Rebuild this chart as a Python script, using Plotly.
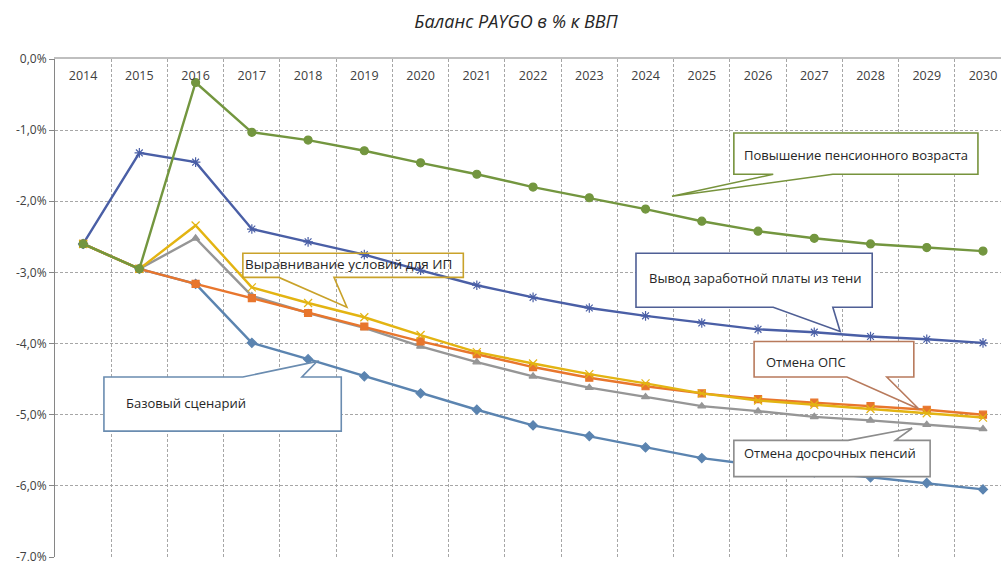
import plotly.graph_objects as go

years = list(range(2014, 2031))

# Values, % of GDP
pension_age = [-2.60, -2.95, -0.33, -1.03, -1.14, -1.29, -1.46, -1.62, -1.80, -1.95, -2.11, -2.28, -2.42, -2.52, -2.60, -2.65, -2.70]
shadow_wage = [-2.60, -1.32, -1.45, -2.39, -2.57, -2.75, -2.97, -3.18, -3.35, -3.50, -3.61, -3.71, -3.80, -3.84, -3.90, -3.94, -3.99]
base_case = [-2.60, -2.95, -3.16, -3.99, -4.22, -4.46, -4.70, -4.93, -5.15, -5.30, -5.46, -5.61, -5.71, -5.81, -5.88, -5.96, -6.05]
ops_cancel = [-2.60, -2.95, -3.16, -3.36, -3.57, -3.76, -3.97, -4.15, -4.33, -4.48, -4.60, -4.70, -4.78, -4.83, -4.88, -4.93, -5.00]
ip_equal = [-2.60, -2.95, -2.34, -3.21, -3.43, -3.63, -3.88, -4.12, -4.28, -4.43, -4.56, -4.70, -4.80, -4.86, -4.92, -4.98, -5.04]
early_cancel = [-2.60, -2.95, -2.52, -3.33, -3.57, -3.78, -4.04, -4.26, -4.46, -4.62, -4.75, -4.88, -4.95, -5.03, -5.08, -5.14, -5.20]

y_ticks = [0, -1, -2, -3, -4, -5, -6, -7]
y_tick_labels = ["0,0%", "-1,0%", "-2,0%", "-3,0%", "-4,0%", "-5,0%", "-6,0%", "-7,0%"]

series = [
    ("Базовый сценарий", base_case, "#5B84B0", "diamond", 7),
    ("Вывод заработной платы из тени", shadow_wage, "#4A5FA6", "asterisk-open", 8),
    ("Отмена досрочных пенсий", early_cancel, "#969696", "triangle-up", 7),
    ("Отмена ОПС", ops_cancel, "#E8762D", "square", 7),
    ("Выравнивание условий для ИП", ip_equal, "#E3B412", "x-thin-open", 8),
    ("Повышение пенсионного возраста", pension_age, "#73963F", "circle", 8),
]

fig = go.Figure()
for name, vals, color, sym, size in series:
    fig.add_trace(go.Scatter(
        x=years, y=vals, name=name, mode="lines+markers",
        line=dict(color=color, width=2.4),
        marker=dict(symbol=sym, size=size, color=color, line=dict(color=color, width=1.2)),
    ))

# Callouts: (text, box L, R, T, B, pointer side, xa, tip x, tip y, xb, border colour, fill, text x, text y, font size)
callouts = [
    ("Повышение пенсионного возраста", 2025.57, 2029.91, -1.04, -1.62, "bottom", 2026.27, 2024.47, -1.93, 2027.33, "#77933C", "white", 2027.74, -1.35, 13),
    ("Вывод заработной платы из тени", 2023.83, 2028.03, -2.73, -3.49, "bottom", 2026.27, 2027.46, -3.83, 2027.33, "#4F5F95", "white", 2025.95, -3.08, 13),
    ("Выравнивание условий для ИП", 2016.84, 2020.76, -2.73, -3.07, "bottom", 2017.48, 2018.69, -3.49, 2018.46, "#C9A22A", "rgba(0,0,0,0)", 2018.72, -2.88, 13.5),
    ("Базовый сценарий", 2014.37, 2018.59, -4.47, -5.23, "top", 2016.84, 2018.16, -4.25, 2017.89, "#6A8CB0", "white", 2015.83, -4.84, 13),
    ("Отмена ОПС", 2025.93, 2028.77, -3.97, -4.47, "bottom", 2027.58, 2028.86, -4.92, 2028.29, "#B87A5C", "white", 2026.85, -4.26, 13),
    ("Отмена досрочных пенсий", 2025.57, 2029.06, -5.36, -5.87, "top", 2027.60, 2028.74, -5.19, 2028.44, "#8C8C8C", "white", 2027.28, -5.54, 13),
]

for (txt, L, R, T, B, side, xa, tx, ty, xb, col, fill, lx, ly, fs) in callouts:
    if side == "bottom":
        path = (f"M {L},{T} L {R},{T} L {R},{B} L {xb},{B} L {tx},{ty} "
                f"L {xa},{B} L {L},{B} Z")
    else:
        path = (f"M {L},{T} L {xa},{T} L {tx},{ty} L {xb},{T} L {R},{T} "
                f"L {R},{B} L {L},{B} Z")
    fig.add_shape(type="path", path=path, xref="x", yref="y",
                  line=dict(color=col, width=1.6), fillcolor=fill, layer="above")
    fig.add_annotation(x=lx, y=ly, xref="x", yref="y", text=txt, showarrow=False,
                       font=dict(family="Open Sans", size=fs, color="#262626"),
                       xanchor="center", yanchor="middle")

fig.update_layout(
    width=1001, height=561,
    margin=dict(l=55, r=0, t=59, b=4),
    paper_bgcolor="white", plot_bgcolor="white",
    showlegend=False,
    font=dict(family="Open Sans", size=12, color="#404040"),
    title=dict(text="<i>Баланс PAYGO в % к ВВП</i>", x=516 / 1001, xref="container",
               y=1 - 22 / 561, yref="container", xanchor="center", yanchor="middle",
               font=dict(family="Open Sans", size=18, color="#262626")),
    xaxis=dict(
        range=[2013.5, 2030.32], tickmode="array", tickvals=years,
        ticktext=[str(y) for y in years], side="top", ticklabelposition="inside",
        ticklabelstandoff=12, ticklabeloverflow="allow",
        ticks="", showgrid=False, zeroline=False, automargin=False,
        showline=True, linecolor="#BFBFBF", linewidth=1.5,
        tickfont=dict(size=12.5, color="#404040"),
        minor=dict(tickmode="array", tickvals=[y + 0.5 for y in years[:-1]],
                   showgrid=True, gridcolor="#A6A6A6", griddash="3px,2px", gridwidth=1, ticks=""),
    ),
    yaxis=dict(
        range=[-7, 0], tickmode="array", tickvals=y_ticks, ticktext=y_tick_labels,
        showgrid=True, gridcolor="#A6A6A6", griddash="3px,2px", gridwidth=1,
        zeroline=False, showline=True, linecolor="#868686", linewidth=1,
        ticks="outside", ticklen=5, tickcolor="#868686", automargin=False,
        ticklabeloverflow="allow",
        tickfont=dict(size=12, color="#404040"),
    ),
)

fig.write_html("out.html", config={"displayModeBar": False},
               post_script="document.body.style.margin='0';")
